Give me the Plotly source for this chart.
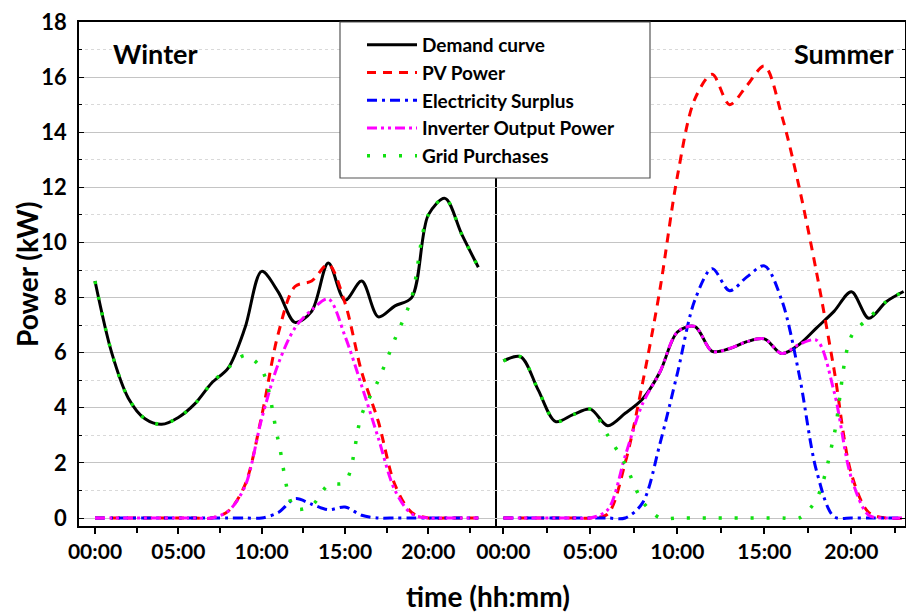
import plotly.graph_objects as go

hours = list(range(24))

winter_demand = [8.6, 6.0, 4.35, 3.6, 3.4, 3.65, 4.15, 4.9, 5.45, 6.9, 8.95, 8.2,
                 7.1, 7.5, 9.25, 7.9, 8.6, 7.3, 7.7, 8.0, 11.0, 11.6, 10.3, 9.1]
winter_pv = [0, 0, 0, 0, 0, 0, 0, 0, 0.25, 1.2, 3.7, 6.7,
             8.4, 8.6, 9.2, 7.8, 5.3, 3.5, 1.2, 0.2, 0, 0, 0, 0]
winter_surplus = [0, 0, 0, 0, 0, 0, 0, 0, 0, 0, 0, 0.2,
                  0.7, 0.5, 0.3, 0.4, 0.1, 0, 0, 0, 0, 0, 0, 0]
winter_inverter = [0, 0, 0, 0, 0, 0, 0, 0, 0.25, 1.15, 3.6, 5.6,
                   6.9, 7.55, 7.95, 6.6, 4.8, 2.9, 1.0, 0.15, 0, 0, 0, 0]
winter_grid = [8.6, 6.0, 4.35, 3.6, 3.4, 3.65, 4.15, 4.9, 5.45, 5.9, 5.4, 2.8,
               0.35, 0.45, 1.2, 1.3, 3.75, 5.0, 6.5, 8.0, 11.0, 11.6, 10.3, 9.1]

summer_demand = [5.7, 5.85, 4.65, 3.5, 3.75, 3.95, 3.35, 3.8, 4.32, 5.3, 6.75, 6.95,
                 6.05, 6.15, 6.4, 6.5, 5.97, 6.3, 6.9, 7.5, 8.21, 7.25, 7.85, 8.22]
summer_pv = [0, 0, 0, 0, 0, 0, 0.15, 2.0, 4.9, 8.3, 12.4, 15.2,
             16.1, 15.0, 15.7, 16.4, 14.6, 12.0, 8.9, 5.4, 1.6, 0.2, 0, 0]
summer_surplus = [0, 0, 0, 0, 0, 0, 0, 0, 0.55, 2.7, 5.25, 7.9,
                  9.05, 8.25, 8.75, 9.15, 7.9, 5.2, 1.7, 0.05, 0, 0, 0, 0]
summer_inverter = [0, 0, 0, 0, 0, 0, 0.3, 2.25, 4.15, 5.3, 6.75, 6.95,
                   6.05, 6.15, 6.4, 6.5, 5.97, 6.3, 6.45, 4.6, 1.45, 0.1, 0, 0]
summer_grid = [5.7, 5.85, 4.65, 3.5, 3.75, 3.95, 3.0, 1.95, 0.6, 0, 0, 0,
               0, 0, 0, 0, 0, 0, 0.7, 3.0, 6.6, 7.25, 7.85, 8.22]

series_names = ["Demand curve", "PV Power", "Electricity Surplus",
                "Inverter Output Power", "Grid Purchases"]
tick_hours = [0, 5, 10, 15, 20]
tick_labels = ["00:00", "05:00", "10:00", "15:00", "20:00"]
minor_hours = [2.5, 7.5, 12.5, 17.5, 22.5]

styles = [
    dict(color="#000000", width=3, dash="solid"),
    dict(color="#ff0000", width=3, dash="9px,7px"),
    dict(color="#0000ff", width=3, dash="10px,5px,3px,5px"),
    dict(color="#ff00ff", width=3, dash="10px,4px,3px,4px,3px,4px"),
    dict(color="#11e011", width=3.5, dash="3px,13px"),
]

FONT = "Lato"
fig = go.Figure()

winter = [winter_demand, winter_pv, winter_surplus, winter_inverter, winter_grid]
summer = [summer_demand, summer_pv, summer_surplus, summer_inverter, summer_grid]

for i, (name, st) in enumerate(zip(series_names, styles)):
    fig.add_trace(go.Scatter(x=hours, y=winter[i], mode="lines", name=name,
                             line=dict(shape="spline", smoothing=0.9, **st),
                             xaxis="x", yaxis="y", legendgroup=name, showlegend=True))
for i, (name, st) in enumerate(zip(series_names, styles)):
    fig.add_trace(go.Scatter(x=hours, y=summer[i], mode="lines", name=name,
                             line=dict(shape="spline", smoothing=0.9, **st),
                             xaxis="x2", yaxis="y2", legendgroup=name, showlegend=False))

L, R, T, B = 79, 1, 22, 89
W, H = 906, 615
pw = W - L - R
ph = H - T - B
split = (495 - L) / pw

def px2x(px):
    return (px - L) / pw

def py2y(py):
    return (H - B - py) / ph

xcommon = dict(tickmode="array", tickvals=tick_hours, ticktext=tick_labels,
               ticks="outside", ticklen=6, tickwidth=1.5, tickcolor="black",
               showline=True, linecolor="black", linewidth=1.5, mirror=True,
               showgrid=False, zeroline=False,
               tickfont=dict(family=FONT, size=21, color="black", weight="bold"),
               minor=dict(tickmode="array", tickvals=minor_hours, ticks="outside",
                          ticklen=5, tickwidth=1.5, tickcolor="black", showgrid=False))
ycommon = dict(range=[-0.29, 18], tickmode="linear", tick0=0, dtick=2,
               showgrid=True, gridcolor="#c4c4c4", gridwidth=1,
               zeroline=False, showline=True, linecolor="black", linewidth=1.5,
               ticks="inside", ticklen=5, tickcolor="black",
               minor=dict(dtick=1, showgrid=True, gridcolor="#d9d9d9",
                          griddash="dot", gridwidth=1, ticks="inside", ticklen=3,
                          tickcolor="black"))

fig.update_layout(
    width=W, height=H,
    margin=dict(l=L, r=R, t=T, b=B),
    plot_bgcolor="white", paper_bgcolor="white",
    showlegend=True,
    xaxis=dict(domain=[0, split], range=[-0.96, 24.0], anchor="y", **xcommon),
    xaxis2=dict(domain=[split, 1], range=[-0.48, 23.08], anchor="y2", **xcommon),
    yaxis=dict(anchor="x", side="left", ticklabelstandoff=6, mirror=True,
               tickfont=dict(family=FONT, size=22, color="black", weight="bold"),
               **ycommon),
    yaxis2=dict(anchor="x2", side="right", matches="y", showticklabels=False,
                mirror=False, **ycommon),
    legend=dict(x=px2x(362), y=py2y(26), xanchor="left", yanchor="top",
                bgcolor="rgba(0,0,0,0)", borderwidth=0,
                font=dict(family=FONT, size=19, color="black", weight="bold"),
                tracegroupgap=0, traceorder="grouped", itemwidth=50),
    shapes=[dict(type="rect", xref="paper", yref="paper",
                 x0=px2x(340), x1=px2x(650), y0=py2y(178), y1=py2y(22),
                 line=dict(color="#555555", width=1.2), fillcolor="white",
                 layer="above")],
    annotations=[
        dict(text="Winter", xref="paper", yref="paper", x=px2x(111), y=py2y(53),
             xanchor="left", yanchor="middle", showarrow=False,
             font=dict(family=FONT, size=27, color="black", weight="bold")),
        dict(text="Summer", xref="paper", yref="paper", x=px2x(896), y=py2y(53),
             xanchor="right", yanchor="middle", showarrow=False,
             font=dict(family=FONT, size=27, color="black", weight="bold")),
        dict(text="Power (kW)", xref="paper", yref="paper", x=px2x(27), y=py2y(274),
             xanchor="center", yanchor="middle", showarrow=False, textangle=-90,
             font=dict(family=FONT, size=28, color="black", weight="bold")),
        dict(text="time (hh:mm)", xref="paper", yref="paper", x=px2x(488), y=py2y(596),
             xanchor="center", yanchor="middle", showarrow=False,
             font=dict(family=FONT, size=28, color="black", weight="bold")),
    ],
)

fig.write_html("out.html", config={"displayModeBar": False},
               post_script="document.body.style.margin='0px';document.body.style.overflow='hidden';")
